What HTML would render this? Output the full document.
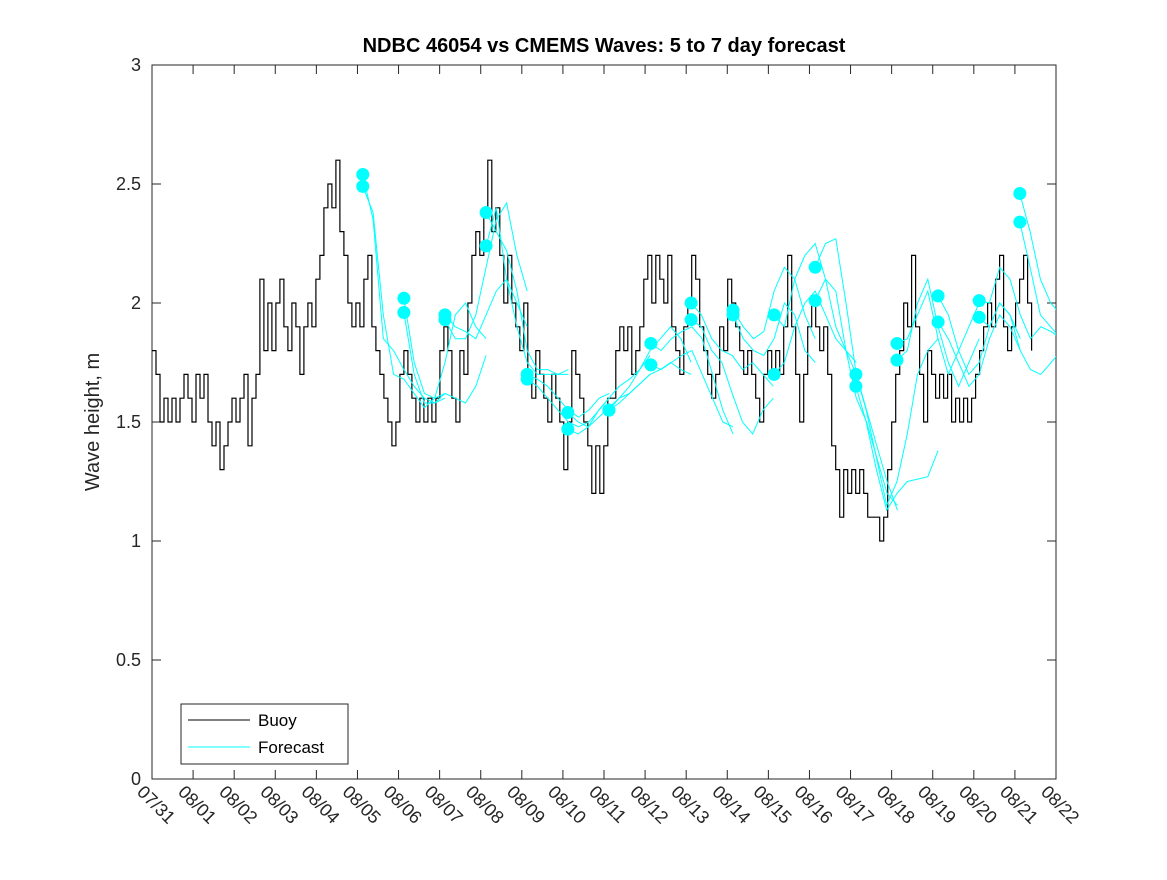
<!DOCTYPE html>
<html><head><meta charset="utf-8"><style>
body{margin:0;background:#fff;}
svg text{font-family:"Liberation Sans",sans-serif;}
</style></head><body>
<svg id="chart" width="1167" height="875" xmlns="http://www.w3.org/2000/svg">
<defs><clipPath id="clip"><rect x="152" y="65" width="904" height="714"/></clipPath></defs>
<rect x="0" y="0" width="1167" height="875" fill="#fff"/>
<text x="604" y="52" text-anchor="middle" font-size="20" font-weight="bold" fill="#000">NDBC 46054 vs CMEMS Waves: 5 to 7 day forecast</text>
<text transform="translate(99,422) rotate(-90)" text-anchor="middle" font-size="20" fill="#262626">Wave height, m</text>
<g id="axes"></g>
<g id="series" clip-path="url(#clip)"></g>
<g>
<rect x="181" y="704" width="167" height="60" fill="#fff" stroke="#262626" stroke-width="1"/>
<line x1="188" y1="720" x2="250" y2="720" stroke="#000" stroke-width="1"/>
<text x="258" y="726" font-size="17" fill="#000">Buoy</text>
<line x1="188" y1="747" x2="250" y2="747" stroke="#00ffff" stroke-width="1"/>
<text x="258" y="753" font-size="17" fill="#000">Forecast</text>
</g>
</svg>
<script>
const xTickLabels=["07/31","08/01","08/02","08/03","08/04","08/05","08/06","08/07","08/08","08/09","08/10","08/11","08/12","08/13","08/14","08/15","08/16","08/17","08/18","08/19","08/20","08/21","08/22"];
const yTicks=[0,0.5,1,1.5,2,2.5,3];
const buoyStep=0.0973;
const buoyVals=[1.8,1.7,1.5,1.6,1.5,1.6,1.5,1.6,1.7,1.6,1.5,1.7,1.6,1.7,1.5,1.4,1.5,1.3,1.4,1.5,1.6,1.5,1.6,1.7,1.4,1.6,
1.7,2.1,1.8,2.0,1.8,2.0,2.1,1.9,1.8,2.0,1.9,1.7,1.9,2.0,1.9,2.1,2.2,2.4,2.5,2.4,2.6,2.3,2.2,2.0,1.9,2.0,1.9,2.1,2.2,1.9,1.8,1.7,1.6,1.5,1.4,1.5,1.7,1.8,1.7,1.6,1.5,1.6,1.5,1.6,1.5,1.6,1.8,1.9,1.8,1.6,1.5,1.8,1.7,2.0,2.2,2.3,2.2,2.4,2.6,2.3,2.4,2.2,2.0,2.2,2.0,1.9,1.8,2.0,1.7,1.6,1.8,1.7,1.6,1.5,1.7,1.6,1.5,1.3,1.5,1.8,1.7,1.6,1.5,1.4,1.2,1.4,1.2,1.4,1.6,1.6,1.8,1.9,1.8,1.9,1.7,1.8,1.9,2.1,2.2,2.0,2.2,2.1,2.0,2.2,1.9,1.8,1.7,1.9,2.0,2.2,2.1,1.9,1.8,1.7,1.6,1.7,1.9,1.8,2.1,2.0,1.9,1.8,1.7,1.8,1.7,1.6,1.5,1.7,1.8,1.7,1.8,1.7,1.9,2.2,1.9,1.7,1.5,1.7,1.9,2.0,1.9,1.8,1.9,1.7,1.4,1.3,1.1,1.3,1.2,1.3,1.2,1.3,1.2,1.1,1.1,1.1,1.0,1.1,1.3,1.5,1.7,1.8,2.0,1.9,2.2,1.9,1.7,1.5,1.8,1.7,1.6,1.7,1.6,1.7,1.5,1.6,1.5,1.6,1.5,1.6,1.7,1.8,1.9,2.0,1.9,2.1,2.2,1.9,1.8,1.9,2.0,2.1,2.2,2.0,1.8];
const fcStart=[5.13,6.13,7.13,8.13,9.13,10.12,11.12,12.14,13.12,14.14,15.14,16.14,17.13,18.13,19.13,20.13,21.12];
const fcStep=0.25;
const fcA=[[2.54,2.35,1.85,1.80,1.72,1.65,1.60,1.58,1.60],[2.02,1.75,1.62,1.60,1.75,1.95,2.0,1.90,1.85],[1.95,1.90,1.88,1.85,1.95,2.05,2.10,2.00,1.90],[2.38,2.30,2.22,2.05,1.80,1.72,1.72,1.70,1.72],[1.70,1.68,1.65,1.60,1.55,1.52,1.55,1.60,1.62],[1.54,1.50,1.48,1.55,1.60,1.65,1.68,1.72,1.78],[1.55,1.60,1.65,1.72,1.80,1.85,1.90,1.85,1.75],[1.83,1.80,1.85,1.88,1.90,1.85,1.70,1.55,1.45],[2.00,1.95,1.85,1.80,1.78,1.72,1.75,1.70,1.65],[1.97,1.90,1.85,1.88,2.05,2.15,2.10,1.95,1.85],[1.95,1.90,2.10,2.20,2.25,2.10,1.90,1.80,1.75],[2.15,2.25,2.27,2.0,1.70,1.55,1.40,1.25,1.13],[1.70,1.55,1.35,1.15,1.25,1.45,1.70,1.80,1.85],[1.83,1.85,1.95,2.05,1.85,1.70,1.80,1.90,2.00],[2.03,1.95,1.80,1.70,1.75,1.90,2.00,1.95,1.85],[2.01,2.00,2.15,2.10,1.95,1.85,1.90,1.88,1.85],[2.46,2.30,2.10,2.00,1.95,1.85,1.80,1.95]];
const fcB=[[2.49,2.38,1.95,1.70,1.68,1.62,1.56,1.60,1.62],[1.96,1.70,1.58,1.58,1.62,1.60,1.58,1.65,1.78],[1.93,1.85,1.85,1.95,2.15,2.35,2.42,2.20,2.05],[2.24,2.40,2.10,1.90,1.75,1.70,1.70,1.70,1.70],[1.68,1.65,1.60,1.55,1.50,1.48,1.50,1.55,1.60],[1.47,1.45,1.48,1.52,1.56,1.60,1.62,1.66,1.70],[1.55,1.58,1.62,1.66,1.70,1.72,1.75,1.72,1.70],[1.74,1.72,1.75,1.78,1.80,1.70,1.60,1.50,1.48],[1.93,1.90,1.80,1.75,1.62,1.50,1.45,1.55,1.60],[1.95,1.85,1.80,1.78,1.85,2.00,1.95,1.80,1.75],[1.70,1.75,1.90,2.0,2.05,1.95,1.85,1.80,1.70],[2.01,2.10,2.05,1.80,1.60,1.50,1.35,1.20,1.15],[1.65,1.50,1.30,1.13,1.20,1.25,1.26,1.27,1.38],[1.76,1.80,2.00,2.10,1.90,1.75,1.65,1.75,1.85],[1.92,1.85,1.75,1.65,1.70,1.85,1.95,1.90,1.80],[1.94,1.90,2.00,1.95,1.80,1.72,1.70,1.75,1.80],[2.34,2.15,1.95,1.90,1.85,1.80,1.75,1.85]];

const X0=152,X1=1056,Y0=779,Y1=65;
const xs=d=>X0+d*(X1-X0)/22;
const ys=v=>Y0-v*(Y0-Y1)/3;
const NS="http://www.w3.org/2000/svg";
function mk(tag,attrs,parent){const e=document.createElementNS(NS,tag);for(const k in attrs)e.setAttribute(k,attrs[k]);parent.appendChild(e);return e;}
const axes=document.getElementById('axes'),series=document.getElementById('series');
const box=mk('rect',{x:X0,y:Y1,width:X1-X0,height:Y0-Y1,fill:'none',stroke:'#262626','stroke-width':1},axes);


yTicks.forEach(v=>{const y=ys(v);
mk('line',{x1:X0,y1:y,x2:X0+9,y2:y,stroke:'#262626'},axes);
mk('line',{x1:X1,y1:y,x2:X1-9,y2:y,stroke:'#262626'},axes);
const t=mk('text',{x:X0-11,y:y+6,'text-anchor':'end','font-size':18,fill:'#262626'},axes);t.textContent=String(v);

});
xTickLabels.forEach((lab,i)=>{const x=xs(i);
mk('line',{x1:x,y1:Y0,x2:x,y2:Y0-9,stroke:'#262626'},axes);
mk('line',{x1:x,y1:Y1,x2:x,y2:Y1+9,stroke:'#262626'},axes);
const t=mk('text',{transform:`translate(${x-16},${Y0+14}) rotate(45)`,'font-size':18,fill:'#262626'},axes);t.textContent=lab;

});
let bp=[];
buoyVals.forEach((v,i)=>{const x=xs(i*buoyStep),y=ys(v);
if(i>0)bp.push(x.toFixed(1)+','+ys(buoyVals[i-1]).toFixed(1));
bp.push(x.toFixed(1)+','+y.toFixed(1));});
const bl=mk('polyline',{points:bp.join(' '),fill:'none',stroke:'#000','stroke-width':1.2},series);


[fcA,fcB].forEach((set,si)=>set.forEach((vals,k)=>{
const pts=vals.map((v,j)=>xs(fcStart[k]+j*fcStep).toFixed(1)+','+ys(v).toFixed(1)).join(' ');
const l=mk('polyline',{points:pts,fill:'none',stroke:'#00ffff','stroke-width':1},series);


const c=mk('circle',{cx:xs(fcStart[k]),cy:ys(vals[0]),r:6.5,fill:'#00ffff'},series);


}));
</script>
</body></html>
